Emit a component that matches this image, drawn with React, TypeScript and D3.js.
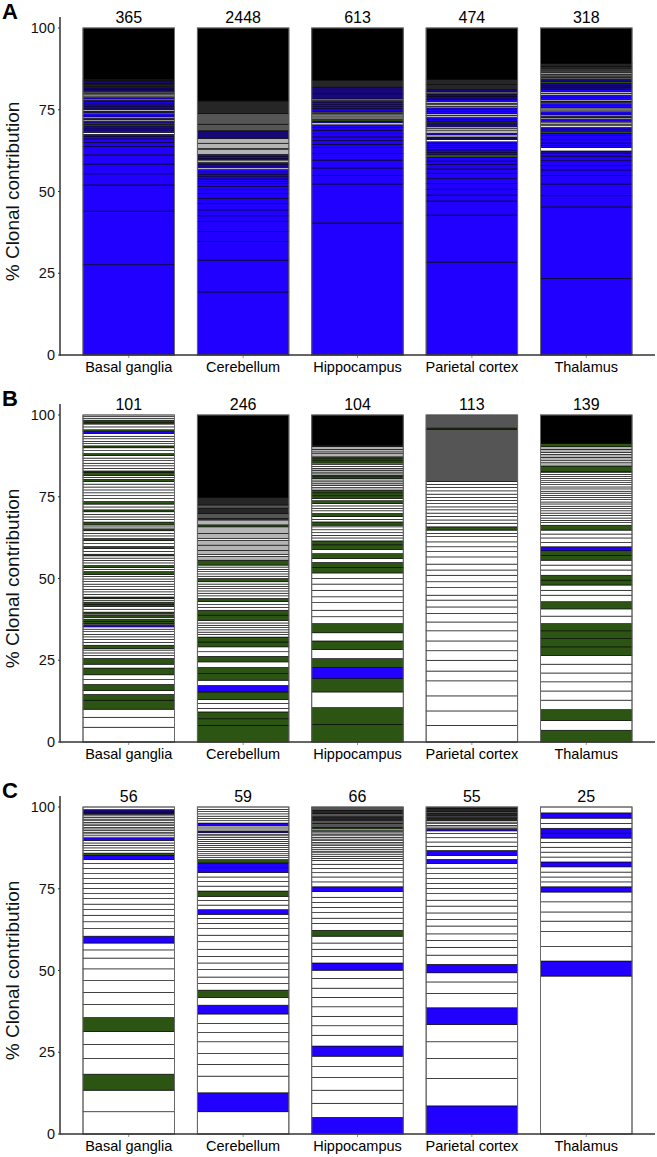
import React from "react";
import * as d3 from "d3";

const regions = ["Basal ganglia", "Cerebellum", "Hippocampus", "Parietal cortex", "Thalamus"];
const panelLetters = ["A", "B", "C"];
const countsA = [365, 2448, 613, 474, 318];
const countsB = [101, 246, 104, 113, 139];
const countsC = [56, 59, 66, 55, 25];
const yTicks = [0, 25, 50, 75, 100];

// Clone segments, bottom to top: colour code + % contribution
// b blue, g green, w white, l light grey (dense tiny clones), d dark grey, m near-black grey, n navy, k black
const clonesA = [
  "b27.6 b16.4 b8.0 b3.4 b3.0 b2.8 b2.6 b1.2 b1.1 b0.8 b0.6 w0.6 b0.7 b0.6 b0.6 g0.5 g0.5 b0.5 w0.4 b0.5 w0.4 b0.5 b0.5 w0.4 b0.4 w0.4 b0.5 b0.5 b0.5 b0.5 b0.5 b0.4 l0.4 b0.4 l0.5 l0.4 w0.4 l0.4 l0.3 n0.5 n0.5 m0.5 m0.5 m0.4 n0.5 m0.4 m0.4 k15.6",
  "b19.2 b9.7 b5.7 b3.0 b3.1 b1.7 b1.8 b2.0 b1.5 b1.5 b1.2 b0.9 b0.9 b0.7 b0.7 b0.7 b0.7 b0.8 b0.7 w0.5 b0.6 b0.5 b0.5 l0.8 b0.5 b0.6 b0.6 l1.5 w0.3 l1.6 l1.5 n2.3 d2.0 d3.3 m3.8 k22.2",
  "b40.4 b11.9 b2.6 b2.3 b2.4 b2.0 b1.8 b1.0 b1.2 b1.1 b1.0 b1.0 b0.9 b0.8 w0.6 b0.5 g0.5 l0.5 l0.6 l0.6 g0.4 l0.4 b0.5 g0.4 b0.6 b0.6 b0.6 b0.6 l0.5 n1.6 n2.0 m2.2 k15.9",
  "b28.4 b14.4 b4.3 b1.8 b1.8 b1.7 b1.5 b1.7 b1.3 b1.3 b1.1 b1.1 g0.9 b0.7 b0.7 b0.7 b0.6 b0.7 b0.5 w0.7 b0.4 b0.4 w0.6 b0.5 l1.0 w0.4 l0.6 b0.6 b0.6 g0.5 b0.6 b0.5 l0.7 l0.6 b0.6 b0.6 b0.5 w0.4 l0.6 w0.3 l0.7 b0.6 n0.8 n0.8 d0.8 n0.6 m1.5 m1.6 k15.7",
  "b23.4 b21.9 b3.4 b3.6 b2.6 b1.7 b1.4 b1.4 b1.4 b1.0 b0.6 w1.0 b0.7 b0.7 b1.1 b1.2 b0.7 g0.7 b0.6 b0.5 w0.5 l0.5 w0.4 l0.5 b0.6 w0.4 b0.5 w0.4 b0.5 b0.5 w0.5 l0.4 w0.4 b0.6 b0.6 w0.4 b0.4 w0.5 b0.6 b0.6 l0.6 l0.6 b0.6 n0.7 n0.7 b0.5 g0.5 n0.6 d0.8 d0.8 l0.5 d0.6 d0.6 m0.8 m0.8 k10.9",
];

const clonesB = [
  "w4.6 w3.1 w2.5 g2.8 g1.8 w1.2 g1.9 w1.5 w1.5 g2.1 w1.2 g1.8 w0.9 w0.8 w0.9 w0.5 g1.0 w0.9 w0.9 w0.8 w0.8 w0.8 w0.8 w0.7 b0.7 w0.3 g0.7 g0.7 w0.6 g0.6 w0.4 g0.6 w0.9 w0.9 g0.6 g0.7 w0.6 w0.5 g0.5 w0.8 w0.8 w0.8 w0.8 w0.8 w0.8 w0.8 w0.8 w0.6 g0.9 w0.7 w0.6 g0.6 w0.8 w0.8 w0.7 w0.7 g0.5 w0.9 w0.9 g0.6 w0.9 w0.9 g0.7 w0.8 w0.8 w0.8 g0.6 w0.6 w0.6 g0.9 w0.8 w0.8 w0.8 w0.8 g0.6 w0.9 w0.9 g0.8 w0.9 w0.9 w0.9 w0.9 w0.9 w0.9 w0.8 g0.7 w0.6 w0.6 g0.9 g0.5 w0.8 w0.8 w0.8 w0.8 w0.8 w0.8 g0.6 w0.9 w0.9 g0.6 w0.7 w0.7 w0.8 w0.8 w0.8 b0.6 g0.6 w0.9 w0.9 g0.6 g0.6 w0.6 w0.5 w0.5",
  "g5.1 g2.0 g2.1 w1.1 w1.5 w1.2 g2.3 b2.0 w1.6 g2.0 g1.9 w1.7 g1.7 w1.4 w1.5 g1.5 g1.5 w0.8 w0.7 w0.7 w0.7 w0.7 w0.7 w0.8 g1.6 g1.5 w0.9 w0.8 w0.9 g1.0 w0.8 w0.8 w0.7 w0.7 w0.7 w0.7 w0.7 g1.0 w0.7 w0.7 w0.7 w0.7 w0.7 w0.6 g1.5 l1.2 w0.5 l1.3 l1.6 l1.5 w0.5 l1.6 l2.0 g0.6 l1.5 g0.5 d1.5 m1.6 d1.0 m2.3 k25.2",
  "g5.4 g5.1 w4.8 g4.1 b3.4 g2.7 w2.8 g2.6 w2.5 g2.8 w2.1 w2.0 w2.3 w1.8 w2.0 w1.9 w1.7 w1.7 g1.7 g1.5 w1.2 g1.5 w1.3 g1.4 g1.2 w0.9 w0.8 w0.8 w0.9 w0.9 w0.5 g1.0 w0.8 w0.8 g1.0 w0.8 w0.7 w0.8 w0.7 g0.9 w0.7 g0.8 g0.9 g0.8 l0.8 w0.6 l0.8 w0.6 l0.8 g0.5 g0.5 l0.7 l0.7 l0.7 w0.6 w0.6 w0.4 g0.7 g0.6 g0.6 l1.0 w0.5 l0.8 l0.8 m0.5 k9.2",
  "w5.1 w4.4 w4.6 w4.6 w3.0 w3.3 w2.9 w3.0 w3.1 w2.7 w2.6 w2.0 w2.1 w1.5 w2.3 w1.8 w2.0 w1.6 w1.8 w2.2 w1.6 w1.5 w1.5 w1.6 w1.0 w1.0 g1.0 w1.1 w1.0 w1.1 w1.0 w1.0 w0.9 w1.0 w1.0 w0.9 w1.0 w1.0 w1.1 w0.9 w0.8 d16.0 g0.4 d4.0",
  "g3.6 w3.0 g3.3 w2.9 w2.8 w2.8 w2.7 w2.7 w2.7 g2.6 g2.5 g2.4 g2.2 w2.3 w2.2 g2.2 w2.0 w1.5 w1.6 g1.5 g1.5 w1.6 w1.5 w1.5 g1.5 g1.4 b1.2 w1.3 w1.4 w1.2 w1.2 g1.5 w0.8 w0.7 w0.7 w0.8 w0.7 w0.7 w0.7 w0.7 w0.7 w0.6 w0.7 w0.7 w0.6 w0.7 w0.6 w0.7 w0.6 w0.7 w0.6 w0.6 w0.7 w0.6 w0.6 w0.6 w0.3 g1.7 l1.0 w0.6 l1.0 l1.0 w0.6 l0.9 l0.8 g1.0 k8.7",
];

const clonesC = [
  "w6.8 w6.6 g4.9 w4.8 w4.3 w3.9 g4.3 w4.0 w3.7 w3.6 w3.6 w3.3 w2.5 w2.1 b2.1 w2.3 w2.1 w2.0 w1.7 w1.7 w1.7 w1.5 w1.6 w1.5 w1.5 w1.5 w1.6 w1.5 w1.2 b1.3 g0.7 w0.8 w0.8 w0.8 w0.7 w0.8 b0.8 w0.6 w0.6 w0.5 w0.5 w0.5 w0.5 w0.5 w0.5 w0.5 w0.5 w0.5 w0.5 w0.5 w0.5 n0.7 n0.7 w0.8",
  "w6.8 b5.8 w5.1 w3.6 w3.3 w3.6 w2.8 w2.8 w2.9 b2.7 w2.4 g2.2 w2.0 w2.0 w2.3 w2.0 w2.0 w2.2 w2.3 w2.0 w2.0 w1.6 w1.5 w1.3 b1.4 w1.4 w1.4 w1.3 g1.6 w1.5 w1.4 w1.4 w1.4 b1.5 b1.4 g1.0 w0.6 w0.6 w0.6 w0.7 w0.6 w0.6 w0.7 w0.6 w0.6 w0.6 w0.6 w0.5 w0.5 w0.5 b0.5 w0.6 w0.6 w0.5 b0.7 w0.7 w0.7 w0.7 w0.7 w0.7 w0.7 w0.7",
  "b5.1 w4.3 w4.0 w3.9 w3.3 w3.2 b3.1 w3.3 w2.9 w2.9 w2.9 w2.9 w2.8 w3.0 w2.5 b2.2 w2.0 w2.2 w1.9 w2.1 g1.8 w2.1 w1.6 w1.7 w1.6 w1.5 w1.6 w1.7 b1.5 w1.5 w1.5 w1.3 w1.3 w1.3 w1.2 w0.6 w0.6 w0.5 w0.6 w0.5 w0.6 w0.5 w0.6 w0.5 w0.5 w0.5 w0.5 w0.5 w0.5 w0.5 w0.4 w0.4 w0.4 w0.4 g0.5 d1.2 d1.0 m1.0 d1.0 m1.0 d1.0",
  "b8.6 w8.4 w6.1 w5.1 w5.3 b5.1 w4.4 w3.5 w2.8 b2.6 w2.8 w2.4 w2.1 w2.0 w2.4 w2.0 w2.0 w2.1 w1.8 w2.0 w1.6 w1.5 w1.5 w1.5 w1.7 w1.4 b1.3 w1.2 b1.5 w1.3 w1.3 w1.3 w1.3 w0.8 b0.7 w0.5 w0.5 w0.5 w0.5 w0.5 m0.8 d0.6 m0.8 d0.6 m0.8 m0.5",
  "w48.3 b4.6 w4.4 w4.6 w3.2 w2.8 w3.1 w3.0 b1.6 w1.5 w1.5 w1.5 w1.6 b1.5 w1.5 w1.5 w1.5 w1.5 w1.3 b1.5 b1.5 w1.5 w1.6 b1.6 w1.8",
];

const colorOf: Record<string, string> = {
  b: "#2200ff",
  g: "#2c5514",
  w: "#ffffff",
  l: "#b4b4b4",
  d: "#555555",
  m: "#262626",
  n: "#17087a",
  k: "#000000",
};

const panels = [
  { letter: panelLetters[0], counts: countsA, clones: clonesA, top: 28 },
  { letter: panelLetters[1], counts: countsB, clones: clonesB, top: 415 },
  { letter: panelLetters[2], counts: countsC, clones: clonesC, top: 807 },
];

const plotH = 327;
const axisX = 60;
const axisRight = 655;
const font = "'Liberation Sans', Arial, Helvetica, sans-serif";

function parseClones(s: string) {
  const items = s.trim().split(/\s+/).map((t) => ({ c: t[0], v: +t.slice(1) }));
  const total = d3.sum(items, (d) => d.v);
  let cum = 0;
  return items.map((d) => {
    const pct = (d.v / total) * 100;
    const seg = { c: d.c, y0: cum, y1: cum + pct };
    cum += pct;
    return seg;
  });
}

export default function App() {
  const x = d3.scaleBand<string>().domain(regions).range([83, 632]).paddingInner(0.2).paddingOuter(0);
  const bw = x.bandwidth();
  return (
    <svg width={657} height={1157} style={{ position: "absolute", left: 0, top: 0 }} fontFamily={font}>
      <rect x={0} y={0} width={657} height={1157} fill="#fff" />
      {panels.map((p) => {
        const y = d3.scaleLinear().domain([0, 100]).range([p.top + plotH, p.top]);
        const bottom = y(0);
        return (
          <g key={p.letter}>
            <text x={2} y={p.top - 9} fontSize={22} fontWeight="bold" fill="#000">{p.letter}</text>
            <text
              transform={`translate(19, ${p.top + plotH / 2}) rotate(-90)`}
              textAnchor="middle"
              fontSize={19}
              fill="#111"
            >
              % Clonal contribution
            </text>
            {yTicks.map((t) => (
              <g key={t}>
                <line x1={axisX - 2} x2={axisX} y1={y(t)} y2={y(t)} stroke="#333" strokeWidth={1} />
                <text x={55} y={y(t)} dy="0.36em" textAnchor="end" fontSize={14.5} fill="#111">{t}</text>
              </g>
            ))}
            {regions.map((r, i) => {
              const segs = parseClones(p.clones[i]);
              const x0 = x(r) as number;
              return (
                <g key={r}>
                  {segs.map((s, j) => (
                    <rect
                      key={j}
                      x={x0}
                      y={y(s.y1)}
                      width={bw}
                      height={y(s.y0) - y(s.y1)}
                      fill={colorOf[s.c]}
                      stroke="#000"
                      strokeWidth={0.6}
                    />
                  ))}
                  <rect x={x0} y={y(100)} width={bw} height={y(0) - y(100)} fill="none" stroke="#6a6a6a" strokeWidth={1} />
                  <text x={x0 + bw / 2} y={p.top - 5} textAnchor="middle" fontSize={16} fill="#000">{p.counts[i]}</text>
                  <line x1={x0 + bw / 2} x2={x0 + bw / 2} y1={bottom} y2={bottom + 3} stroke="#777" strokeWidth={0.8} />
                  <text x={x0 + bw / 2} y={bottom + 17} textAnchor="middle" fontSize={14.5} fill="#000">{r}</text>
                </g>
              );
            })}
            <line x1={axisX} x2={axisX} y1={p.top - 11} y2={bottom + 0.75} stroke="#333" strokeWidth={1.5} />
            <line x1={axisX} x2={axisRight} y1={bottom} y2={bottom} stroke="#333" strokeWidth={1.5} />
          </g>
        );
      })}
    </svg>
  );
}
